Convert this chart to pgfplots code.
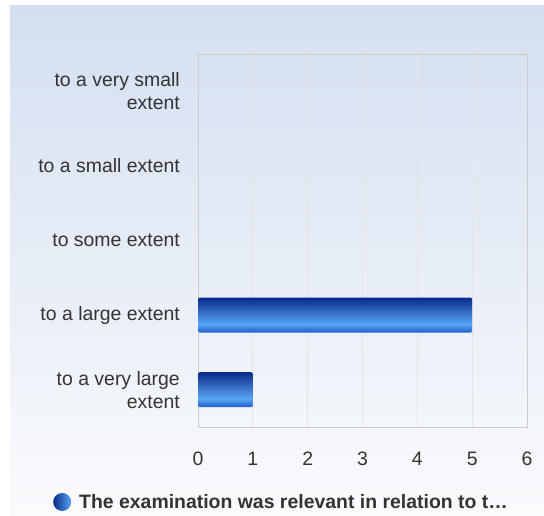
\documentclass[border=0pt]{standalone}
\usepackage{fontspec}
\setmainfont{Liberation Sans}
\usepackage{pgfplots}
\pgfplotsset{compat=1.18}

\definecolor{panelTop}{RGB}{211,223,240}
\definecolor{panelBot}{RGB}{250,251,253}
\definecolor{labelGray}{RGB}{51,51,51}
\definecolor{frameGray}{RGB}{204,204,204}
\definecolor{gridGray}{RGB}{228,228,228}
\definecolor{barDark}{RGB}{8,42,138}
\definecolor{barLight}{RGB}{88,166,245}
\definecolor{barMid}{RGB}{28,92,200}

% vertical shading runs bottom (0bp) to top (100bp); the path fills 25bp..75bp
\pgfdeclareverticalshading{barshade}{100bp}{%
  color(0bp)=(barMid); color(25bp)=(barMid); color(37bp)=(barLight);
  color(75bp)=(barDark); color(100bp)=(barDark)}

\pgfplotsset{
  shadedbar/.style={xbar, bar shift=0pt, draw=none, shading=barshade, rounded corners=2bp},
}

\begin{document}
\begin{tikzpicture}
% page and panel background
\fill[white] (0bp,0bp) rectangle (544bp,516bp);
\shade[top color=panelTop, bottom color=panelBot] (10bp,0bp) rectangle (544bp,510bp);

\begin{axis}[
  at={(198bp,89bp)}, anchor=south west,
  scale only axis,
  width=329bp, height=373bp,
  bar width=0.47,
  xmin=0, xmax=6,
  ymin=-0.5, ymax=4.5,
  xtick={0,1,2,3,4,5,6},
  ytick={0,1,2,3,4},
  yticklabels={{to a very large\\extent},{to a large extent},{to some extent},{to a small extent},{to a very small\\extent}},
  major tick length=0pt,
  axis line style={frameGray},
  xmajorgrids,
  grid style={gridGray, line width=0.8pt},
  /pgf/number format/assume math mode=true,
  tick label style={font=\fontsize{19.5}{23}\selectfont, text=labelGray},
  yticklabel style={align=right, inner sep=0pt, xshift=-18bp},
  xticklabel style={yshift=-21bp, text height=14bp, text depth=0pt},
  legend style={at={(-0.4407,-0.201)}, anchor=west, draw=none, fill=none,
    inner sep=0pt, font=\fontsize{19.5}{23}\selectfont\bfseries, text=labelGray,
    legend cell align=left},
  legend image code/.code={%
    \shade[left color=barDark, right color=barLight, draw=none] (9bp,0bp) circle (9bp);
  },
]
% rows with zero responses (nothing visible)
\addplot[xbar, bar shift=0pt, draw=none, fill=none, forget plot]
  coordinates {(0,4) (0,3) (0,2)};
% one plot per bar so each bar gets its own shading
\addplot[shadedbar] coordinates {(5,1)};
\addlegendentry{\hspace{6bp}The examination was relevant in relation to t…}
\addplot[shadedbar, forget plot] coordinates {(1,0)};
\end{axis}
\pgfresetboundingbox
\useasboundingbox (0bp,0bp) rectangle (544bp,516bp);
\end{tikzpicture}
\end{document}
